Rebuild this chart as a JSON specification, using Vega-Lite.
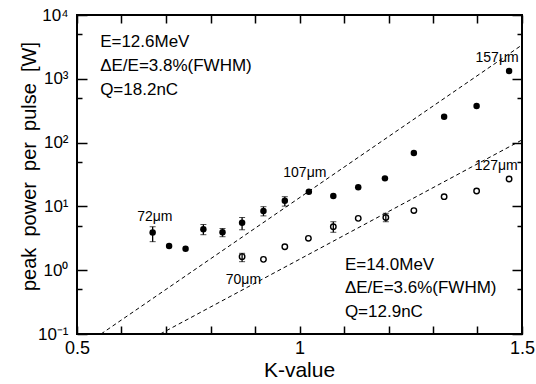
{
  "$schema": "https://vega.github.io/schema/vega-lite/v6.json",
  "width": 445,
  "height": 319,
  "autosize": {"type": "none"},
  "padding": {"left": 77, "top": 15, "right": 14, "bottom": 50},
  "config": {
    "view": {"stroke": "black", "strokeWidth": 2},
    "font": "Liberation Sans",
    "axis": {"domain": false, "grid": false, "ticks": true, "tickColor": "black", "tickWidth": 1.5, "labelColor": "black", "titleColor": "black", "titleFontWeight": "normal"}
  },
  "datasets": {
    "filled": [
      {"K": 0.670, "P": 3.9}, {"K": 0.707, "P": 2.4}, {"K": 0.744, "P": 2.17},
      {"K": 0.784, "P": 4.37}, {"K": 0.827, "P": 3.93}, {"K": 0.871, "P": 5.56},
      {"K": 0.919, "P": 8.47}, {"K": 0.967, "P": 12.3}, {"K": 1.021, "P": 17},
      {"K": 1.076, "P": 14.6}, {"K": 1.132, "P": 19.9}, {"K": 1.192, "P": 27.5},
      {"K": 1.257, "P": 68.7}, {"K": 1.325, "P": 255}, {"K": 1.398, "P": 375},
      {"K": 1.471, "P": 1325}
    ],
    "open": [
      {"K": 0.871, "P": 1.63}, {"K": 0.919, "P": 1.48}, {"K": 0.967, "P": 2.33},
      {"K": 1.020, "P": 3.16}, {"K": 1.076, "P": 4.8}, {"K": 1.132, "P": 6.5},
      {"K": 1.194, "P": 6.7}, {"K": 1.257, "P": 8.6}, {"K": 1.325, "P": 14.2},
      {"K": 1.398, "P": 17.4}, {"K": 1.471, "P": 26.9}
    ],
    "errors": [
      {"K": 0.670, "lo": 2.8, "hi": 4.8}, {"K": 0.784, "lo": 3.6, "hi": 5.2},
      {"K": 0.827, "lo": 3.35, "hi": 4.5}, {"K": 0.871, "lo": 4.3, "hi": 6.7},
      {"K": 0.919, "lo": 7.1, "hi": 9.9}, {"K": 0.967, "lo": 10.1, "hi": 14.2},
      {"K": 0.871, "lo": 1.36, "hi": 1.84}, {"K": 1.076, "lo": 3.93, "hi": 5.75},
      {"K": 1.194, "lo": 5.75, "hi": 7.8}
    ],
    "lines": [
      {"g": "upper", "K": 0.554, "P": 0.1}, {"g": "upper", "K": 1.5, "P": 3390},
      {"g": "lower", "K": 0.687, "P": 0.1}, {"g": "lower", "K": 1.5, "P": 110}
    ],
    "wl": [
      {"K": 0.675, "P": 6.74, "t": "72μm"}, {"K": 0.874, "P": 0.70, "t": "70μm"},
      {"K": 1.012, "P": 33, "t": "107μm"}, {"K": 1.444, "P": 2094, "t": "157μm"},
      {"K": 1.442, "P": 43.5, "t": "127μm"}
    ],
    "notes": [
      {"K": 0.552, "P": 3733, "t": "E=12.6MeV"}, {"K": 0.552, "P": 1603, "t": "ΔE/E=3.8%(FWHM)"},
      {"K": 0.552, "P": 667, "t": "Q=18.2nC"}, {"K": 1.102, "P": 1.21, "t": "E=14.0MeV"},
      {"K": 1.102, "P": 0.52, "t": "ΔE/E=3.6%(FWHM)"}, {"K": 1.102, "P": 0.224, "t": "Q=12.9nC"}
    ]
  },
  "layer": [
    {
      "data": {"name": "lines"},
      "transform": [{"filter": "datum.g == 'upper'"}],
      "mark": {"type": "line", "color": "black", "strokeWidth": 1, "strokeDash": [4, 3]},
      "encoding": {
        "x": {"field": "K", "type": "quantitative", "scale": {"domain": [0.5, 1.5], "nice": false, "zero": false},
          "axis": {"orient": "bottom", "offset": -8, "tickSize": 8, "values": [0.5, 0.6, 0.7, 0.8, 0.9, 1.0, 1.1, 1.2, 1.3, 1.4, 1.5],
            "labelExpr": "abs(datum.value-0.5)<0.001 ? '0.5' : abs(datum.value-1)<0.001 ? '1' : abs(datum.value-1.5)<0.001 ? '1.5' : ''",
            "labelPadding": 5, "labelFontSize": 18, "labelFlush": false, "labelOverlap": false,
            "title": "K-value", "titleFontSize": 21, "titleX": 222, "titleY": 50, "titleBaseline": "alphabetic", "titleAlign": "center"}},
        "y": {"field": "P", "type": "quantitative", "scale": {"type": "log", "domain": [0.1, 10000], "nice": false},
          "axis": {"orient": "left", "offset": -10, "tickSize": 10, "values": [0.1, 1, 10, 100, 1000, 10000],
            "labelExpr": "'10' + ['⁻¹','⁰','¹','²','³','⁴'][round(log(datum.value)/LN10)+1]",
            "labelPadding": 9, "labelFontSize": 17, "labelFlush": false, "labelOverlap": false,
            "title": "peak\u00a0 power\u00a0 per\u00a0 pulse\u00a0 [W]", "titleFontSize": 20, "titleX": -52, "titleY": 151,
            "titleAngle": -90, "titleBaseline": "alphabetic", "titleAlign": "center"}}
      }
    },
    {
      "data": {"name": "lines"},
      "transform": [{"filter": "datum.g == 'lower'"}],
      "mark": {"type": "line", "color": "black", "strokeWidth": 1, "strokeDash": [4, 3]},
      "encoding": {
        "x": {"field": "K", "type": "quantitative", "scale": {"domain": [0.5, 1.5], "nice": false, "zero": false},
          "axis": {"orient": "top", "offset": -8, "tickSize": 8, "values": [0.5, 0.6, 0.7, 0.8, 0.9, 1.0, 1.1, 1.2, 1.3, 1.4, 1.5],
            "labels": false, "title": null}},
        "y": {"field": "P", "type": "quantitative", "scale": {"type": "log", "domain": [0.1, 10000], "nice": false},
          "axis": {"orient": "right", "offset": -10, "tickSize": 10, "values": [0.1, 1, 10, 100, 1000, 10000],
            "labels": false, "title": null}}
      }
    },
    {
      "data": {"name": "errors"},
      "mark": {"type": "errorbar", "ticks": {"size": 6, "strokeWidth": 1.3}, "rule": {"strokeWidth": 1.3}, "color": "black"},
      "encoding": {
        "x": {"field": "K", "type": "quantitative", "axis": null},
        "y": {"field": "lo", "type": "quantitative", "scale": {"type": "log"},
          "axis": {"orient": "left", "offset": -5, "tickSize": 5, "values": [0.5, 5, 50, 500, 5000], "labels": false, "title": null}},
        "y2": {"field": "hi"}
      }
    },
    {
      "data": {"name": "filled"},
      "mark": {"type": "point", "filled": true, "color": "black", "size": 42, "opacity": 1},
      "encoding": {
        "x": {"field": "K", "type": "quantitative", "axis": null},
        "y": {"field": "P", "type": "quantitative",
          "axis": {"orient": "right", "offset": -5, "tickSize": 5, "values": [0.5, 5, 50, 500, 5000], "labels": false, "title": null}}
      }
    },
    {
      "data": {"name": "open"},
      "mark": {"type": "point", "filled": false, "color": "black", "strokeWidth": 1.4, "size": 30, "opacity": 1},
      "encoding": {
        "x": {"field": "K", "type": "quantitative", "axis": null},
        "y": {"field": "P", "type": "quantitative", "axis": null}
      }
    },
    {
      "data": {"name": "wl"},
      "mark": {"type": "text", "fontSize": 14, "color": "black", "align": "center", "baseline": "middle"},
      "encoding": {
        "x": {"field": "K", "type": "quantitative", "axis": null},
        "y": {"field": "P", "type": "quantitative", "axis": null},
        "text": {"field": "t"}
      }
    },
    {
      "data": {"name": "notes"},
      "mark": {"type": "text", "fontSize": 17, "color": "black", "align": "left", "baseline": "middle"},
      "encoding": {
        "x": {"field": "K", "type": "quantitative", "axis": null},
        "y": {"field": "P", "type": "quantitative", "axis": null},
        "text": {"field": "t"}
      }
    }
  ],
  "resolve": {"axis": {"x": "independent", "y": "independent"}}
}
